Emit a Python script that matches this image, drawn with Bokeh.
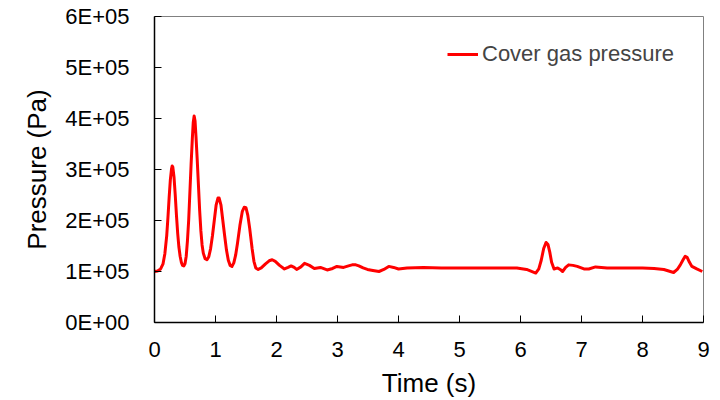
from bokeh.plotting import figure
from bokeh.models import Range1d, FixedTicker, Legend, LegendItem
from bokeh.embed import file_html
from bokeh.resources import INLINE

time_s = [0.0, 0.05, 0.1, 0.14, 0.17, 0.2, 0.22, 0.24, 0.26, 0.28, 0.29, 0.30, 0.32,
          0.34, 0.36, 0.38, 0.40, 0.42, 0.44, 0.46, 0.48, 0.50, 0.52, 0.54, 0.56,
          0.58, 0.60, 0.62, 0.635, 0.65, 0.665, 0.68, 0.70, 0.72, 0.74, 0.76, 0.78,
          0.80, 0.83, 0.86, 0.89, 0.92, 0.95, 0.98, 1.01, 1.04, 1.06, 1.09, 1.12,
          1.15, 1.18, 1.21, 1.24, 1.27, 1.30, 1.33, 1.36, 1.40, 1.44, 1.47, 1.50,
          1.53, 1.56, 1.60, 1.63, 1.66, 1.70, 1.75, 1.82, 1.88, 1.93, 1.98, 2.05,
          2.13, 2.19, 2.24, 2.29, 2.33, 2.40, 2.46, 2.54, 2.62, 2.72, 2.83, 2.92,
          2.99, 3.10, 3.18, 3.24, 3.30, 3.35, 3.42, 3.49, 3.58, 3.68, 3.76, 3.84,
          3.92, 4.00, 4.14, 4.41, 4.7, 5.0, 5.5, 5.94, 6.10, 6.25, 6.30, 6.34, 6.38,
          6.42, 6.45, 6.48, 6.51, 6.55, 6.61, 6.65, 6.69, 6.74, 6.79, 6.86, 6.93,
          7.04, 7.12, 7.23, 7.42, 7.7, 8.0, 8.19, 8.35, 8.51, 8.57, 8.62, 8.67, 8.70,
          8.73, 8.77, 8.81, 8.89, 8.98]
pressure_1e5 = [1.0, 1.01, 1.05, 1.15, 1.35, 1.7, 2.05, 2.45, 2.8, 3.02, 3.07, 3.05, 2.85,
                2.5, 2.1, 1.75, 1.48, 1.3, 1.18, 1.12, 1.11, 1.15, 1.3, 1.6, 2.0,
                2.55, 3.1, 3.6, 3.92, 4.05, 3.95, 3.65, 3.2, 2.7, 2.2, 1.8, 1.52,
                1.36, 1.25, 1.23, 1.29, 1.45, 1.7, 2.0, 2.3, 2.44, 2.44, 2.3, 2.0,
                1.7, 1.42, 1.22, 1.12, 1.10, 1.17, 1.32, 1.55, 1.9, 2.18, 2.26, 2.25,
                2.1, 1.85, 1.45, 1.2, 1.07, 1.04, 1.07, 1.15, 1.21, 1.23, 1.2, 1.12,
                1.05, 1.08, 1.11, 1.08, 1.04, 1.09, 1.16, 1.12, 1.06, 1.08, 1.03, 1.06,
                1.10, 1.08, 1.11, 1.13, 1.13, 1.11, 1.07, 1.04, 1.02, 1.00, 1.04, 1.10,
                1.08, 1.05, 1.07, 1.08, 1.07, 1.07, 1.07, 1.07, 1.04, 0.97, 1.05, 1.22, 1.45,
                1.57, 1.53, 1.38, 1.18, 1.05, 1.07, 1.04, 1.00, 1.08, 1.13, 1.12, 1.10,
                1.05, 1.05, 1.09, 1.07, 1.07, 1.07, 1.06, 1.04, 0.98, 1.04, 1.13, 1.24, 1.30,
                1.28, 1.18, 1.10, 1.05, 1.00]
pressure = [v * 1e5 for v in pressure_1e5]

x_ticks = [0, 1, 2, 3, 4, 5, 6, 7, 8, 9]
y_ticks = [0, 1e5, 2e5, 3e5, 4e5, 5e5, 6e5]
y_tick_labels = ["0E+00", "1E+05", "2E+05", "3E+05", "4E+05", "5E+05", "6E+05"]

FONT = "Liberation Sans"

p = figure(width=712, height=400, output_backend="svg", toolbar_location=None,
           x_range=Range1d(0, 9), y_range=Range1d(0, 6e5),
           min_border_left=154, min_border_right=9, min_border_top=16, min_border_bottom=77)
p.background_fill_color = "white"
p.border_fill_color = "white"
p.outline_line_color = "#808080"
p.outline_line_width = 1
p.xgrid.visible = False
p.ygrid.visible = False

line = p.line(time_s, pressure, line_color="#FF0000", line_width=3, line_join="round")

p.xaxis.ticker = FixedTicker(ticks=x_ticks)
p.yaxis.ticker = FixedTicker(ticks=y_ticks)
p.yaxis.major_label_overrides = {t: l for t, l in zip(y_ticks, y_tick_labels)}
for ax in (p.xaxis[0], p.yaxis[0]):
    ax.major_tick_in = 7
    ax.major_tick_out = 0
    ax.minor_tick_line_color = None
    ax.axis_line_color = "black"
    ax.axis_line_width = 1.5
    ax.major_tick_line_color = "black"
    ax.major_tick_line_width = 1
    ax.major_label_text_font = FONT
    ax.major_label_text_font_size = "22px"
    ax.major_label_text_color = "black"
    ax.axis_label_text_font = FONT
    ax.axis_label_text_font_size = "26px"
    ax.axis_label_text_font_style = "normal"
    ax.axis_label_text_color = "black"
p.xaxis.axis_label = "Time (s)"
p.yaxis.axis_label = "Pressure (Pa)"
p.xaxis.major_label_standoff = 19
p.xaxis.axis_label_standoff = 8
p.yaxis.major_label_standoff = 25
p.yaxis.axis_label_standoff = 10

legend = Legend(items=[LegendItem(label="Cover gas pressure", renderers=[line])],
                location=(293, 255), padding=0, spacing=0, margin=0,
                glyph_width=31, glyph_height=20, label_standoff=4,
                label_text_font=FONT, label_text_font_size="22px",
                background_fill_alpha=0, border_line_color=None)
p.add_layout(legend)

open("out.html", "w").write(file_html(p, INLINE))
